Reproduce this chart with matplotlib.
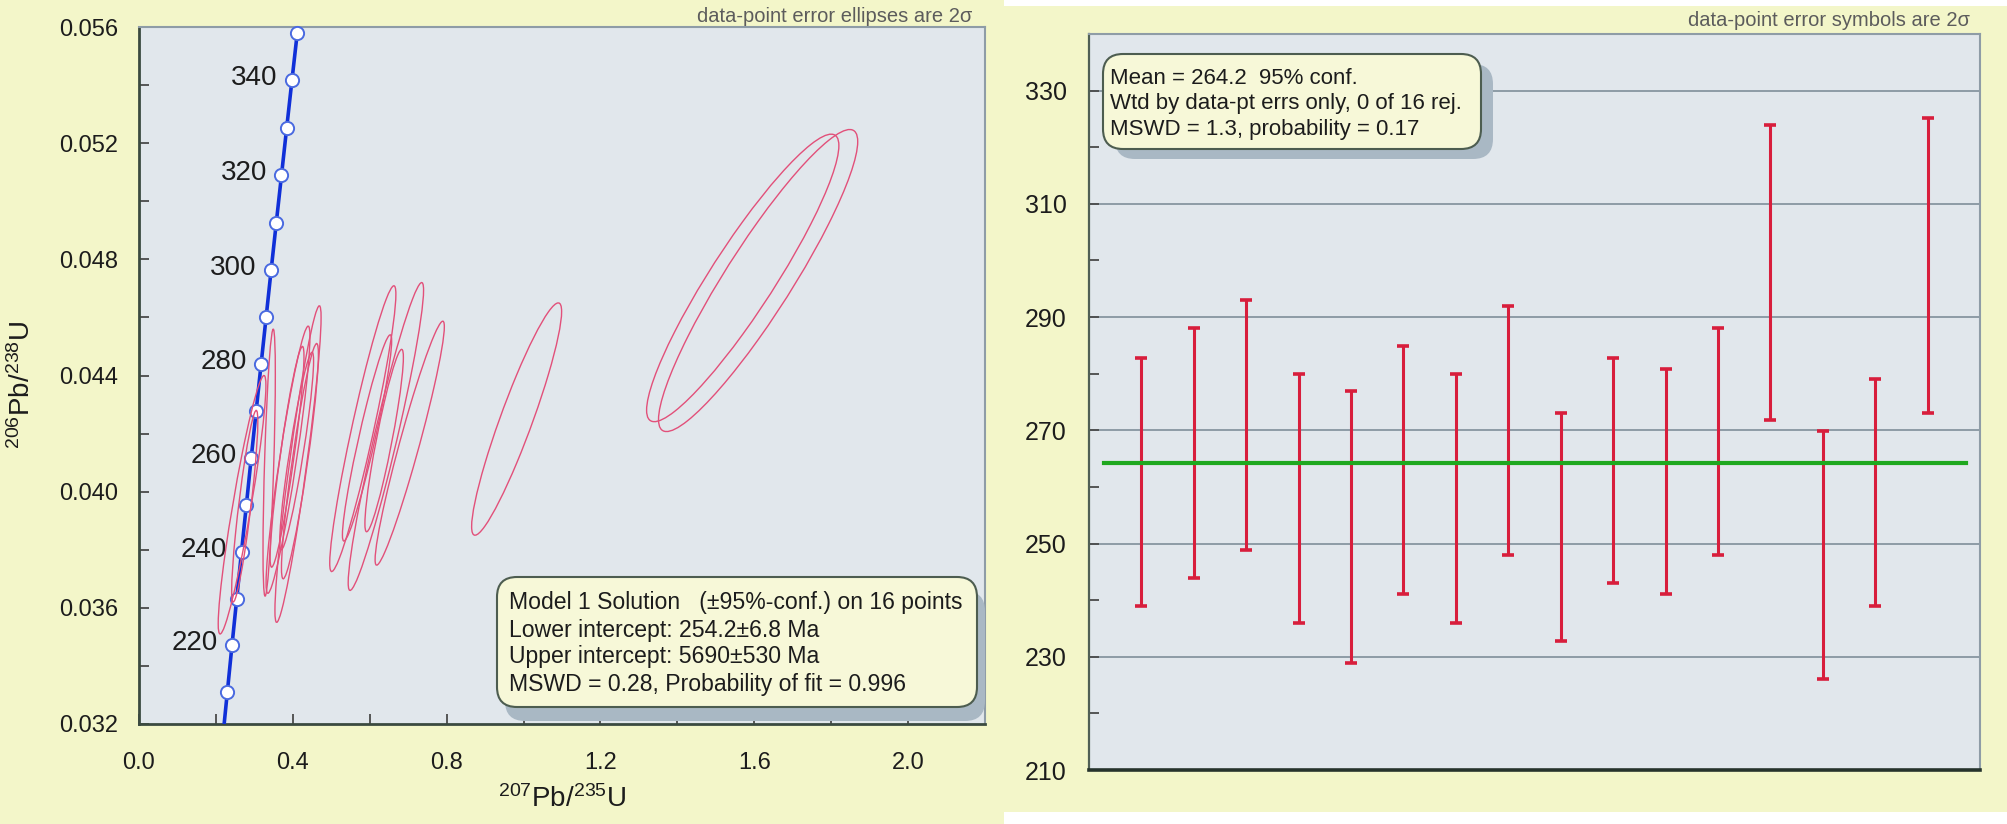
import numpy as np
import matplotlib
matplotlib.use("Agg")
import matplotlib.pyplot as plt
from matplotlib.patches import FancyBboxPatch, Rectangle, Circle
from matplotlib.transforms import Affine2D
from matplotlib.ticker import MultipleLocator, FixedLocator, NullLocator

plt.rcParams['font.family'] = ['Liberation Sans', 'DejaVu Sans']
plt.rcParams['mathtext.fontset'] = 'custom'
plt.rcParams['mathtext.rm'] = 'Liberation Sans'
plt.rcParams['mathtext.it'] = 'Liberation Sans:italic'
plt.rcParams['mathtext.bf'] = 'Liberation Sans:bold'

# ---------------- data: concordia (Wetherill) ----------------
conc_age = [200, 210, 220, 230, 240, 250, 260, 270, 280, 290, 300, 310, 320, 330, 340, 350, 360]
conc_x = [0.2177, 0.2298, 0.2419, 0.2542, 0.2666, 0.2792, 0.2918, 0.3046, 0.3175, 0.3306,
          0.3437, 0.3570, 0.3705, 0.3840, 0.3977, 0.4116, 0.4255]
conc_y = [0.03151, 0.03311, 0.03472, 0.03632, 0.03793, 0.03954, 0.04116, 0.04277, 0.04439,
          0.04601, 0.04764, 0.04926, 0.05089, 0.05252, 0.05416, 0.05580, 0.05743]
marker_ages = [210, 220, 230, 240, 250, 260, 270, 280, 290, 300, 310, 320, 330, 340, 350]
label_ages = [220, 240, 260, 280, 300, 320, 340]

# ---------------- data: error ellipses (center, half-extent x/y, correlation) ----------------
ell_cx = [0.268, 0.275, 0.3385, 0.4135, 0.3875, 0.4185, 0.385, 0.410,
          0.582, 0.642, 0.704, 0.593, 0.6375, 0.982, 1.570, 1.610]
ell_cy = [0.03955, 0.0395, 0.0410, 0.04095, 0.0411, 0.04105, 0.0412, 0.0414,
          0.04217, 0.0419, 0.04167, 0.04185, 0.04176, 0.0425, 0.04736, 0.04727]
ell_ax = [0.062, 0.034, 0.016, 0.060, 0.057, 0.048, 0.044, 0.044,
          0.086, 0.098, 0.090, 0.064, 0.050, 0.117, 0.250, 0.259]
ell_ay = [0.00445, 0.0033, 0.0046, 0.00545, 0.0046, 0.00405, 0.0038, 0.0034,
          0.00492, 0.0053, 0.0042, 0.00355, 0.00314, 0.0040, 0.00495, 0.0052]
ell_rho = [0.92, 0.88, 0.66, 0.925, 0.92, 0.906, 0.91, 0.91,
           0.94, 0.95, 0.955, 0.94, 0.91, 0.925, 0.92, 0.92]

# ---------------- data: weighted mean plot ----------------
bar_hi = [282.8, 288.0, 293.0, 280.0, 277.0, 284.9, 280.0, 292.0,
          273.0, 282.8, 280.9, 288.0, 324.0, 269.8, 279.0, 325.1]
bar_lo = [239.0, 244.0, 248.9, 235.9, 228.9, 241.0, 235.9, 247.9,
          232.8, 243.0, 241.0, 247.9, 271.9, 226.0, 239.0, 273.0]
mean_age = 264.2

left_box_lines = ["Model 1 Solution   (\u00b195%-conf.) on 16 points",
                  "Lower intercept: 254.2\u00b16.8 Ma",
                  "Upper intercept: 5690\u00b1530 Ma",
                  "MSWD = 0.28, Probability of fit = 0.996"]
right_box_lines = ["Mean = 264.2  95% conf.",
                   "Wtd by data-pt errs only, 0 of 16 rej.",
                   "MSWD = 1.3, probability = 0.17"]

# ---------------- styles ----------------
W, H = 2008, 824
YEL = '#F3F6C9'
FACE = '#E1E7EC'
TXT = '#1c1c1c'

fig = plt.figure(figsize=(W / 100, H / 100), dpi=100, facecolor='white')

def px_rect(x0, y0_top, x1, y1_top):
    return [x0 / W, 1 - y1_top / H, (x1 - x0) / W, (y1_top - y0_top) / H]

# panel backgrounds
r = px_rect(0, 0, 1004, 824)
fig.add_artist(Rectangle((r[0], r[1]), r[2], r[3], transform=fig.transFigure,
                         facecolor=YEL, edgecolor='none', zorder=-10))
r = px_rect(1002, 6, 2008, 812)
fig.add_artist(Rectangle((r[0], r[1]), r[2], r[3], transform=fig.transFigure,
                         facecolor=YEL, edgecolor='none', zorder=-10))

# ================= left: concordia =================
ax1 = fig.add_axes(px_rect(139, 27, 985, 724))
ax1.set_facecolor(FACE)
ax1.set_xlim(0, 2.2)
ax1.set_ylim(0.032, 0.056)
ax1.xaxis.set_major_locator(FixedLocator([0.0, 0.4, 0.8, 1.2, 1.6, 2.0]))
ax1.xaxis.set_minor_locator(FixedLocator([0.2, 0.6, 1.0, 1.4, 1.8]))
ax1.yaxis.set_major_locator(MultipleLocator(0.004))
ax1.yaxis.set_minor_locator(MultipleLocator(0.002))
ax1.xaxis.set_major_formatter(matplotlib.ticker.FormatStrFormatter('%.1f'))
ax1.yaxis.set_major_formatter(matplotlib.ticker.FormatStrFormatter('%.3f'))
ax1.tick_params(axis='both', which='both', direction='in', length=7, width=1.3,
                color='#4a4a4a', labelcolor=TXT)
ax1.tick_params(axis='x', which='major', labelsize=17, pad=20)
ax1.tick_params(axis='y', which='major', labelsize=17, pad=15)
for s in ['left', 'bottom']:
    ax1.spines[s].set_color('#3a4a40')
    ax1.spines[s].set_linewidth(2.0)
for s in ['top', 'right']:
    ax1.spines[s].set_color('#8e9ca6')
    ax1.spines[s].set_linewidth(1.5)

ax1.plot(conc_x, conc_y, color='#1030D8', lw=2.6, zorder=3, solid_capstyle='butt')
mx = [conc_x[conc_age.index(a)] for a in marker_ages]
my = [conc_y[conc_age.index(a)] for a in marker_ages]
ax1.plot(mx, my, 'o', ms=9.5, mfc='white', mec='#4a6ae0', mew=1.4, zorder=4, clip_on=False)
for a in label_ages:
    i = conc_age.index(a)
    ax1.annotate(str(a), (conc_x[i], conc_y[i]), xytext=(-10.5, 1.5),
                 textcoords='offset points', ha='right', va='center',
                 fontsize=20, color=TXT, zorder=5)

for cx, cy, a, b, rho in zip(ell_cx, ell_cy, ell_ax, ell_ay, ell_rho):
    tr = Affine2D(np.array([[a, 0.0, cx],
                            [b * rho, b * np.sqrt(1 - rho ** 2), cy],
                            [0.0, 0.0, 1.0]])) + ax1.transData
    ax1.add_patch(Circle((0, 0), 1.0, transform=tr, fill=False,
                         edgecolor='#E2507A', lw=1.0, zorder=6))

ax1.set_xlabel(r'$^{207}$Pb/$^{235}$U', fontsize=20, color=TXT, va='center')
ax1.xaxis.set_label_coords(0.5, -0.1076)
ax1.set_ylabel(r'$^{206}$Pb/$^{238}$U', fontsize=20, color=TXT, va='center')
ax1.yaxis.set_label_coords(-0.138, 0.486)

fig.text(972 / W, 1 - 16 / H, 'data-point error ellipses are 2\u03c3', ha='right', va='center',
         fontsize=14.5, color='#5c5c5c')

# ================= right: weighted mean =================
ax2 = fig.add_axes(px_rect(1089, 34, 1980, 770))
ax2.set_facecolor(FACE)
ax2.set_xlim(0, 17)
ax2.set_ylim(210, 340)
ax2.yaxis.set_major_locator(FixedLocator([210, 230, 250, 270, 290, 310, 330]))
ax2.yaxis.set_minor_locator(FixedLocator([220, 240, 260, 280, 300, 320]))
ax2.xaxis.set_major_locator(NullLocator())
ax2.yaxis.grid(True, which='major', color='#8d9ba6', lw=1.4, zorder=0)
ax2.set_axisbelow(True)
ax2.tick_params(axis='y', which='both', direction='in', length=7, width=1.3,
                color='#4a4a4a', labelcolor=TXT, labelsize=18, pad=16)
ax2.spines['left'].set_color('#4f5f55')
ax2.spines['left'].set_linewidth(1.6)
ax2.spines['bottom'].set_color('#26332c')
ax2.spines['bottom'].set_linewidth(2.6)
for s in ['top', 'right']:
    ax2.spines[s].set_color('#8e9ca6')
    ax2.spines[s].set_linewidth(1.5)

xs = np.arange(1, len(bar_hi) + 1)
lo = np.array(bar_lo)
hi = np.array(bar_hi)
mid = (lo + hi) / 2
ax2.errorbar(xs, mid, yerr=[mid - lo, hi - mid], fmt='none', ecolor='#D81E3C',
             elinewidth=2.2, capsize=4.2, capthick=2.6, zorder=3)
ax2.plot([0.29, 16.73], [mean_age, mean_age], color='#1FA81F', lw=3.0, zorder=4)

fig.text(1970 / W, 1 - 21 / H, 'data-point error symbols are 2\u03c3', ha='right', va='center',
         fontsize=14.5, color='#5c5c5c')

# ================= annotation boxes =================
def add_box(x0, y0_top, x1, y1_top, sdx, sdy, lines, tx, ty_list, fs):
    wi = (x1 - x0) / 100
    hi_ = (y1_top - y0_top) / 100
    xi = x0 / 100
    yi = (H - y1_top) / 100
    shadow = FancyBboxPatch((xi + sdx / 100, yi - sdy / 100), wi, hi_,
                            boxstyle='round,pad=0,rounding_size=0.2',
                            transform=fig.dpi_scale_trans, facecolor='#A9B8C4',
                            edgecolor='none', zorder=10)
    box = FancyBboxPatch((xi, yi), wi, hi_, boxstyle='round,pad=0,rounding_size=0.2',
                         transform=fig.dpi_scale_trans, facecolor='#F7F8D8',
                         edgecolor='#4d5d50', lw=1.5, zorder=11)
    fig.add_artist(shadow)
    fig.add_artist(box)
    for s, ty in zip(lines, ty_list):
        fig.text(tx / W, 1 - ty / H, s, ha='left', va='center', fontsize=fs,
                 color=TXT, zorder=12)

add_box(497, 577, 977, 707, 8, 14, left_box_lines, 509, [602, 630, 657, 685], 16.6)
add_box(1103, 54, 1481, 149, 12, 10, right_box_lines, 1110, [78, 104, 129], 16)

fig.savefig('out.png', dpi=100, facecolor='white')
